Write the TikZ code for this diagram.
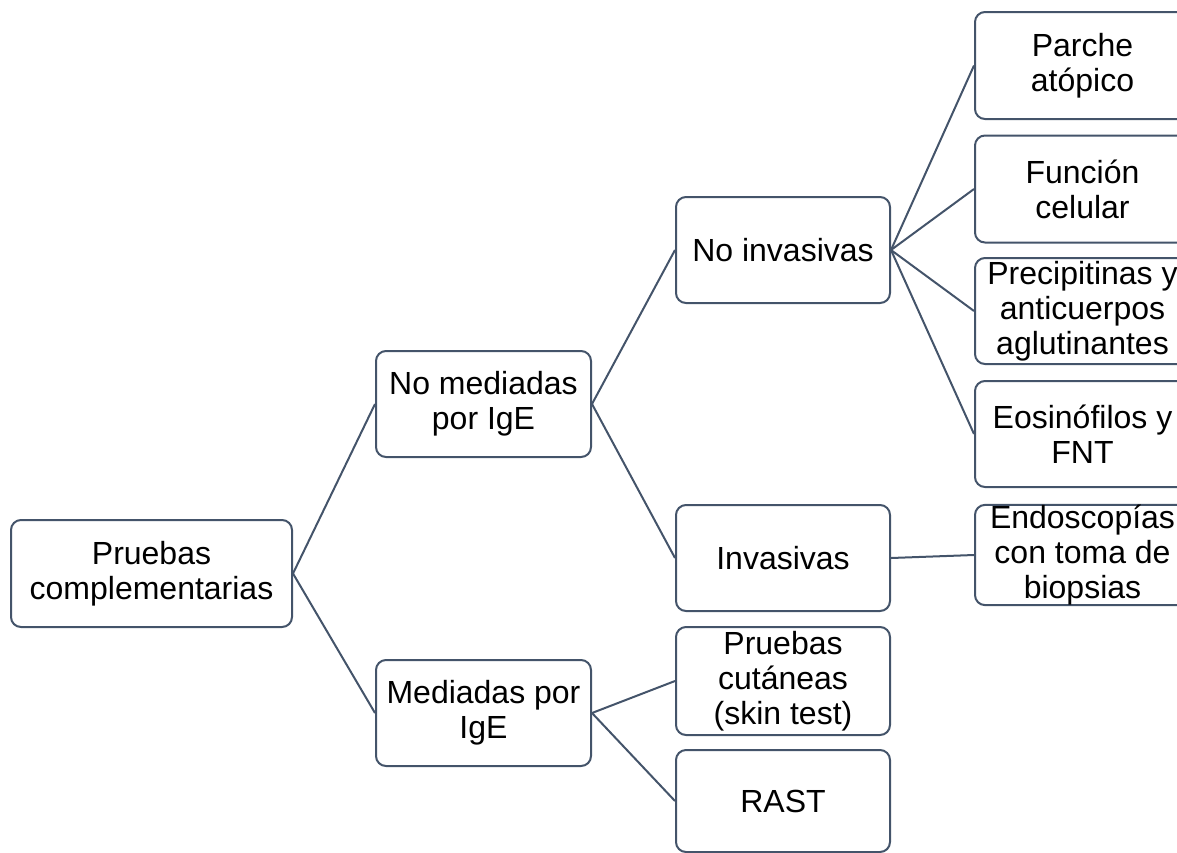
\documentclass[tikz,border=0pt]{standalone}
\usepackage{fontspec}
\setmainfont{Liberation Sans}
\definecolor{edge}{HTML}{44546A}
\begin{document}
\begin{tikzpicture}[x=1pt,y=-1pt,
  box/.style={draw=edge, line width=2pt, rounded corners=10pt, fill=white, align=center, inner sep=0pt,
    font=\fontsize{32}{35}\selectfont, text=black},
  link/.style={draw=edge, line width=2pt}]
\useasboundingbox (0,0) rectangle (1177,852);
\clip (0,0) rectangle (1177,852);
\node[box, minimum width=281pt, minimum height=107pt] (root) at (151.5,573.5) {Pruebas\\complementarias};
\node[box, minimum width=215pt, minimum height=106pt] (nm) at (483.5,404) {No mediadas\\por IgE};
\node[box, minimum width=215pt, minimum height=106pt] (m) at (483.5,713) {Mediadas por\\IgE};
\node[box, minimum width=214pt, minimum height=106pt] (ni) at (783,250) {No invasivas};
\node[box, minimum width=214pt, minimum height=106pt] (inv) at (783,558) {Invasivas};
\node[box, minimum width=214pt, minimum height=108pt] (pc) at (783,681) {Pruebas\\cutáneas\\(skin test)};
\node[box, minimum width=214pt, minimum height=102pt] (rast) at (783,801) {RAST};
\node[box, minimum width=215pt, minimum height=107pt] (pa) at (1082.5,65.5) {Parche\\atópico};
\node[box, minimum width=215pt, minimum height=107pt] (fc) at (1082.5,189) {Función\\celular};
\node[box, minimum width=215pt, minimum height=106pt] (pr) at (1082.5,311) {Precipitinas y\\anticuerpos\\aglutinantes};
\node[box, minimum width=215pt, minimum height=106pt] (eo) at (1082.5,434) {Eosinófilos y\\FNT};
\node[box, minimum width=215pt, minimum height=100pt] (en) at (1082.5,555) {Endoscopías\\con toma de\\biopsias};
\draw[link] (root.east) -- (nm.west);
\draw[link] (root.east) -- (m.west);
\draw[link] (nm.east) -- (ni.west);
\draw[link] (nm.east) -- (inv.west);
\draw[link] (m.east) -- (pc.west);
\draw[link] (m.east) -- (rast.west);
\draw[link] (ni.east) -- (pa.west);
\draw[link] (ni.east) -- (fc.west);
\draw[link] (ni.east) -- (pr.west);
\draw[link] (ni.east) -- (eo.west);
\draw[link] (inv.east) -- (en.west);
\end{tikzpicture}
\end{document}
